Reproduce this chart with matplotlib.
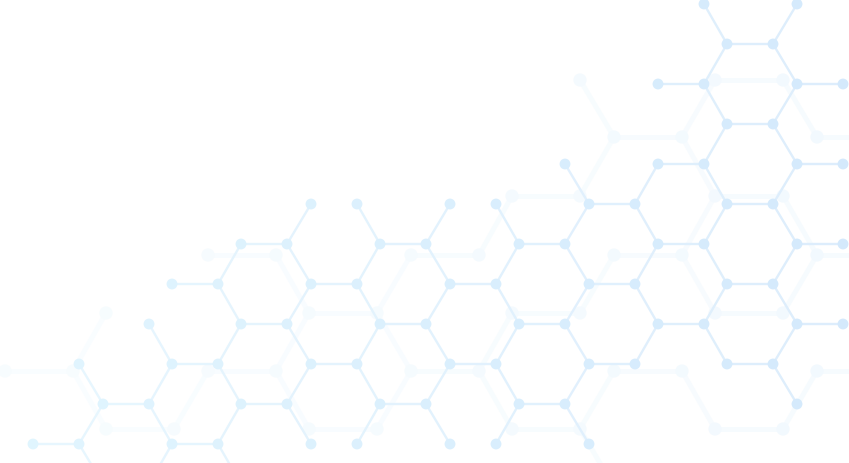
import matplotlib
matplotlib.use("Agg")
import matplotlib.pyplot as plt
from matplotlib.collections import LineCollection
import numpy as np
from matplotlib.colors import to_rgb

# ---- main hexagon lattice (column / row positions) ----
COL_X = [33, 79, 103, 149, 172, 218, 241, 287, 311, 357, 380, 426,
         450, 496, 519, 565, 589, 635, 658, 704, 727, 773, 797, 843, 866]
ROW_Y = [4, 44, 84, 124, 164, 204, 244, 284, 324, 364, 404, 444, 484]

# horizontal bonds: row -> left column index of each bond
H_BONDS = {
    1: [20], 2: [18, 22], 3: [20], 4: [18, 22], 5: [16, 20],
    6: [6, 10, 14, 18, 22], 7: [4, 8, 12, 16, 20],
    8: [6, 10, 14, 18, 22], 9: [4, 8, 12, 16, 20],
    10: [2, 6, 10, 14], 11: [0, 4],
}
# diagonal bonds: (col, row) -> (col, row+1)
D_BONDS = [
    ((19, 0), (20, 1)), ((22, 0), (21, 1)),
    ((20, 1), (19, 2)), ((21, 1), (22, 2)),
    ((19, 2), (20, 3)), ((22, 2), (21, 3)),
    ((20, 3), (19, 4)), ((21, 3), (22, 4)),
    ((15, 4), (16, 5)), ((18, 4), (17, 5)), ((19, 4), (20, 5)), ((22, 4), (21, 5)),
    ((8, 5), (7, 6)), ((9, 5), (10, 6)), ((12, 5), (11, 6)), ((13, 5), (14, 6)),
    ((16, 5), (15, 6)), ((17, 5), (18, 6)), ((20, 5), (19, 6)), ((21, 5), (22, 6)),
    ((6, 6), (5, 7)), ((7, 6), (8, 7)), ((10, 6), (9, 7)), ((11, 6), (12, 7)),
    ((14, 6), (13, 7)), ((15, 6), (16, 7)), ((18, 6), (17, 7)), ((19, 6), (20, 7)),
    ((22, 6), (21, 7)),
    ((5, 7), (6, 8)), ((8, 7), (7, 8)), ((9, 7), (10, 8)), ((12, 7), (11, 8)),
    ((13, 7), (14, 8)), ((16, 7), (15, 8)), ((17, 7), (18, 8)), ((20, 7), (19, 8)),
    ((21, 7), (22, 8)),
    ((3, 8), (4, 9)), ((6, 8), (5, 9)), ((7, 8), (8, 9)), ((10, 8), (9, 9)),
    ((11, 8), (12, 9)), ((14, 8), (13, 9)), ((15, 8), (16, 9)), ((18, 8), (17, 9)),
    ((19, 8), (20, 9)), ((22, 8), (21, 9)),
    ((1, 9), (2, 10)), ((4, 9), (3, 10)), ((5, 9), (6, 10)), ((8, 9), (7, 10)),
    ((9, 9), (10, 10)), ((12, 9), (11, 10)), ((13, 9), (14, 10)), ((16, 9), (15, 10)),
    ((21, 9), (22, 10)),
    ((2, 10), (1, 11)), ((3, 10), (4, 11)), ((6, 10), (5, 11)), ((7, 10), (8, 11)),
    ((10, 10), (9, 11)), ((11, 10), (12, 11)), ((14, 10), (13, 11)), ((15, 10), (16, 11)),
    ((1, 11), (2, 12)), ((4, 11), (3, 12)), ((5, 11), (6, 12)),
]

# ---- faint, larger background lattice ----
FAINT_COL_X = [5, 73, 106, 174, 208, 276, 309, 377, 411, 479, 512, 580,
               614, 682, 715, 783, 817, 885]
FAINT_ROW_Y = [21, 80, 137, 196, 255, 313, 371, 429, 487]
FAINT_BONDS = [
    ((11, 1), (12, 2)), ((12, 2), (13, 2)), ((13, 2), (14, 1)), ((14, 1), (15, 1)),
    ((13, 2), (14, 3)), ((14, 3), (15, 3)), ((15, 1), (16, 2)), ((16, 2), (17, 2)),
    ((12, 2), (11, 3)), ((10, 3), (11, 3)), ((10, 3), (9, 4)), ((8, 4), (9, 4)),
    ((8, 4), (7, 5)), ((6, 5), (7, 5)), ((7, 5), (8, 6)), ((8, 6), (9, 6)),
    ((9, 6), (10, 7)), ((10, 7), (11, 7)), ((9, 6), (10, 5)), ((10, 5), (11, 5)),
    ((6, 5), (5, 4)), ((4, 4), (5, 4)), ((6, 5), (5, 6)), ((4, 6), (5, 6)),
    ((4, 6), (3, 7)), ((2, 7), (3, 7)), ((2, 7), (1, 6)), ((0, 6), (1, 6)),
    ((1, 6), (2, 5)), ((6, 7), (7, 7)), ((6, 7), (5, 6)), ((7, 7), (8, 6)),
    ((12, 4), (13, 4)), ((13, 4), (14, 5)), ((14, 5), (15, 5)), ((15, 5), (16, 4)),
    ((16, 4), (17, 4)), ((11, 5), (12, 4)), ((12, 6), (13, 6)), ((13, 6), (14, 7)),
    ((14, 7), (15, 7)), ((15, 7), (16, 6)), ((16, 6), (17, 6)), ((11, 7), (12, 8)),
    ((11, 7), (12, 6)), ((14, 3), (13, 4)), ((15, 3), (16, 4)),
]

W, H = 849, 463
fig = plt.figure(figsize=(W / 100, H / 100), dpi=100)
ax = fig.add_axes([0, 0, 1, 1])
ax.set_xlim(0, W)
ax.set_ylim(H, 0)
ax.axis("off")
fig.patch.set_facecolor("white")


def grad(c_left, c_right, x):
    t = np.clip(x / W, 0, 1)
    a, b = np.array(to_rgb(c_left)), np.array(to_rgb(c_right))
    return tuple(a + (b - a) * t)


def draw(bonds, colx, rowy, lw, ms, line_cols, node_cols, z):
    segs, cols, nodes = [], [], set()
    for (c1, r1), (c2, r2) in bonds:
        p1 = (colx[c1], rowy[r1])
        p2 = (colx[c2], rowy[r2])
        segs.append([p1, p2])
        cols.append(grad(*line_cols, (p1[0] + p2[0]) / 2))
        nodes.add(p1)
        nodes.add(p2)
    ax.add_collection(LineCollection(segs, colors=cols, linewidths=lw,
                                     zorder=z, capstyle="round"))
    nodes = sorted(nodes)
    nx = [p[0] for p in nodes]
    ny = [p[1] for p in nodes]
    ncol = [grad(*node_cols, x) for x in nx]
    ax.scatter(nx, ny, s=ms ** 2, c=ncol, zorder=z + 0.5, linewidths=0)


main_bonds = list(D_BONDS)
for r, cs in H_BONDS.items():
    for c in cs:
        main_bonds.append(((c, r), (c + 1, r)))

draw(FAINT_BONDS, FAINT_COL_X, FAINT_ROW_Y, 3.5, 9.5,
     ("#f9fdff", "#f6fbfe"), ("#f7fcfe", "#f2f9fe"), 1)
draw(main_bonds, COL_X, ROW_Y, 1.7, 7.8,
     ("#e8f7fe", "#ddedfc"), ("#e1f5fe", "#d4e9fc"), 3)

fig.savefig("out.png", dpi=100, facecolor="white")
